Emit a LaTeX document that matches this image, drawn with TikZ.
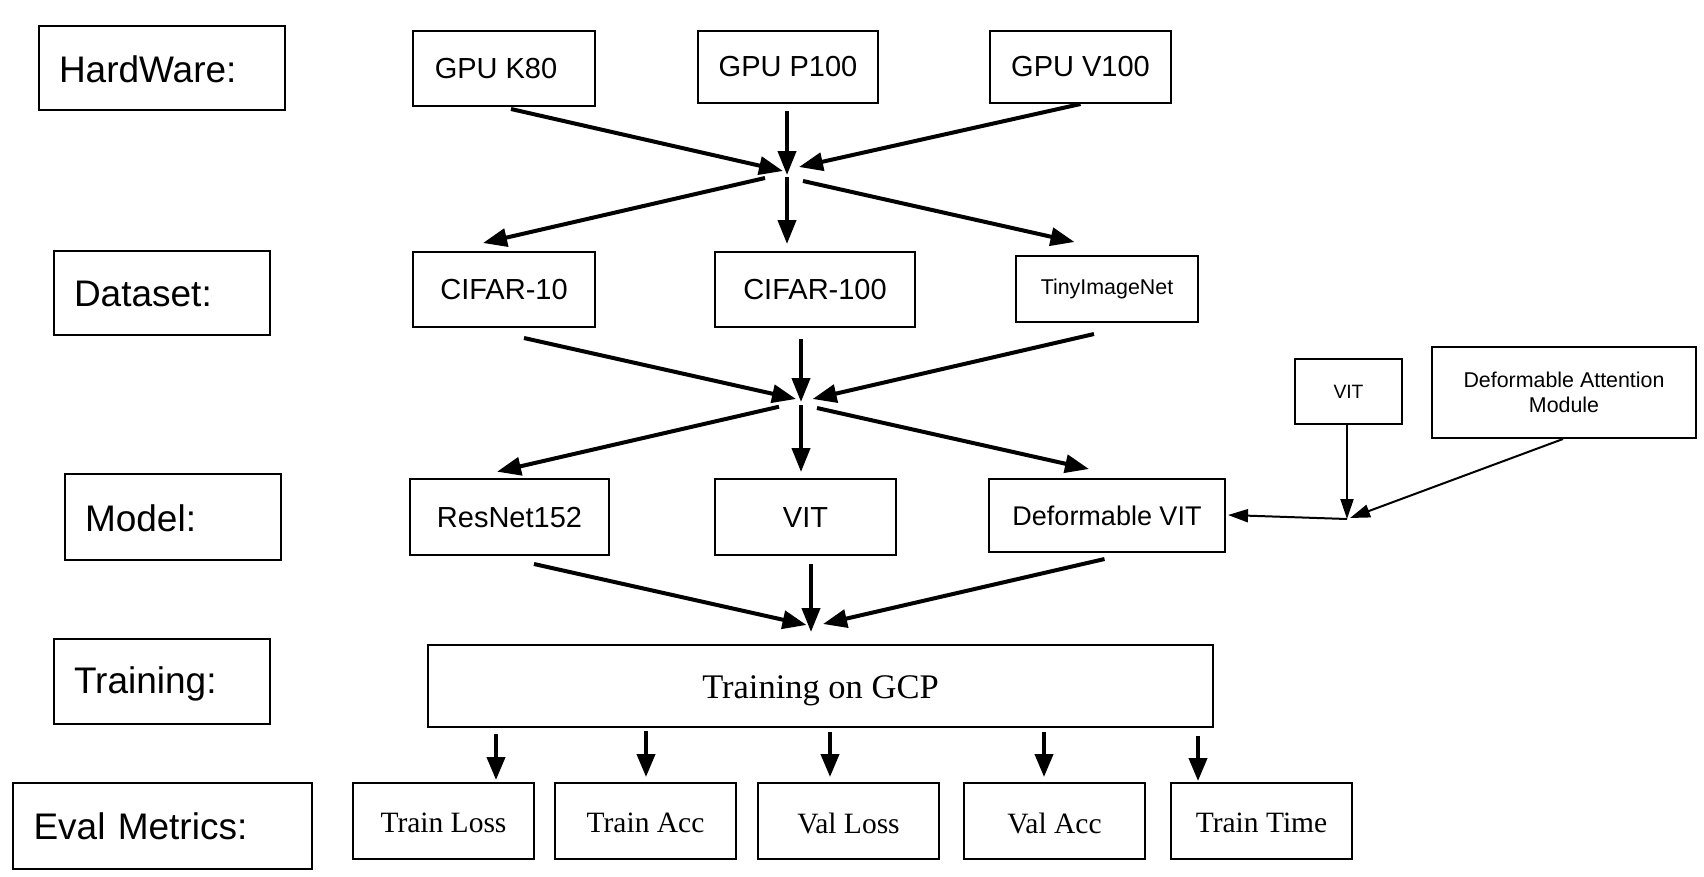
\documentclass[tikz,border=0pt]{standalone}
\usepackage{fontspec}
\setmainfont{Liberation Serif}
\newfontfamily\arialf{Liberation Sans}
\usetikzlibrary{arrows.meta,calc}
\tikzset{
  box/.style={draw, line width=2pt, rectangle, inner sep=0pt, align=center},
  lab/.style={draw, line width=2pt, rectangle, inner ysep=0pt, inner xsep=20pt, align=left,
     font=\arialf\fontsize{37}{44}\selectfont},
  sans/.style={font=\arialf\fontsize{29}{34}\selectfont},
  serif/.style={font=\fontsize{29.5}{34}\selectfont},
  big/.style={line width=4pt, -{Triangle[length=24pt,width=18pt]}},
  evarrow/.style={line width=4pt, -{Triangle[length=23pt,width=18pt]}},
  thin/.style={line width=2pt, -{Triangle[length=20pt,width=13pt]}},
}
\newcommand{\dn}[2]{\raisebox{-#1pt}[\height][\depth]{#2}}
\begin{document}
\begin{tikzpicture}[x=1pt,y=-1pt]
\path[use as bounding box, fill=white] (0,0) rectangle (1704,876);

% left labels
\node[lab, text width=206pt, minimum height=84pt] (lab1) at (162,68) {\dn{1}{HardWare:}};
\node[lab, text width=176pt, minimum height=84pt] (lab2) at (162,293) {\dn{1}{Dataset:}};
\node[lab, text width=176pt, minimum height=86pt] (lab3) at (173,517) {\dn{1}{Model:}};
\node[lab, text width=176pt, minimum height=85pt] (lab4) at (162,681.5) {\dn{2}{Training:}};
\node[lab, text width=257pt, minimum height=86pt, inner xsep=21pt] (lab5) at (162,826) {Eval Metrics:};

% hardware
\node[box, sans, minimum width=182pt, minimum height=75pt] (k80) at (504,68.5) {\hspace*{-16pt}GPU K80};
\node[box, sans, minimum width=180pt, minimum height=72pt] (p100) at (788,67) {GPU P100};
\node[box, sans, minimum width=181pt, minimum height=72pt] (v100) at (1080.5,67) {GPU V100};

% datasets
\node[box, sans, minimum width=182pt, minimum height=75pt] (c10) at (504,289.5) {CIFAR-10};
\node[box, sans, minimum width=200pt, minimum height=75pt] (c100) at (815,289.5) {CIFAR-100};
\node[box, font=\arialf\fontsize{21.4}{25}\selectfont, minimum width=182pt, minimum height=66pt] (tiny) at (1107,289) {TinyImageNet};

% models
\node[box, sans, minimum width=199pt, minimum height=76pt] (resnet) at (509.5,517) {\dn{1}{ResNet152}};
\node[box, sans, minimum width=181pt, minimum height=76pt] (vit) at (805.5,517) {\dn{1}{VIT}};
\node[box, font=\arialf\fontsize{27}{32}\selectfont, minimum width=236pt, minimum height=73pt] (dvit) at (1107,515.5) {Deformable VIT};

% side inputs
\node[box, font=\arialf\fontsize{19.3}{23}\selectfont, minimum width=107pt, minimum height=65pt] (svit) at (1348.5,391.5) {VIT};
\node[box, font=\arialf\fontsize{21.4}{24.5}\selectfont, minimum width=264pt, minimum height=91pt] (dam) at (1564,392.5) {Deformable Attention\\Module};

% training
\node[box, font=\fontsize{34.5}{40}\selectfont, minimum width=785pt, minimum height=82pt] (gcp) at (820.5,686) {\dn{5}{Training on GCP}};

% eval metrics
\node[box, serif, minimum width=181pt, minimum height=76pt] (tl) at (443.5,821) {\dn{2}{Train Loss}};
\node[box, serif, minimum width=181pt, minimum height=76pt] (ta) at (645.5,821) {\dn{2}{Train Acc}};
\node[box, serif, minimum width=181pt, minimum height=76pt] (vl) at (848.5,821) {\dn{2}{Val Loss}};
\node[box, serif, minimum width=181pt, minimum height=76pt] (va) at (1054.5,821) {\dn{2}{Val Acc}};
\node[box, serif, minimum width=181pt, minimum height=76pt] (tt) at (1261.5,821) {\dn{2}{Train Time}};

% hubs
\coordinate (h1) at (787,175);
\coordinate (h2) at (801,402);
\coordinate (h3) at (811,632);
\coordinate (h4) at (1347,519);

% hardware -> hub1
\draw[big] ($(k80.south)+(7,2)$) -- ($(h1)+(-4,-4)$);
\draw[big] ($(p100.south)+(-1,7)$) -- (h1);
\draw[big] ($(v100.south)+(0,0)$) -- ($(h1)+(12,-8)$);
% hub1 -> datasets
\draw[big] ($(h1)+(-22,3)$) -- ($(c10.north)+(-21,-8)$);
\draw[big] ($(h1)+(0,2)$) -- ($(c100.north)+(-28,-7)$);
\draw[big] ($(h1)+(16,6)$) -- ($(tiny.north)+(-32.5,-13)$);

% datasets -> hub2
\draw[big] ($(c10.south)+(20,10)$) -- ($(h2)+(-5,-3)$);
\draw[big] ($(c100.south)+(-14,11)$) -- (h2);
\draw[big] ($(tiny.south)+(-13,11)$) -- ($(h2)+(11.6,-3)$);
% hub2 -> models
\draw[big] ($(h2)+(-22,4.7)$) -- ($(resnet.north)+(-12.5,-6.3)$);
\draw[big] ($(h2)+(0,3)$) -- ($(vit.north)+(-4.5,-6)$);
\draw[big] ($(h2)+(16,6)$) -- ($(dvit.north)+(-18,-9)$);

% models -> hub3
\draw[big] ($(resnet.south)+(24.5,8)$) -- ($(h3)+(-4.5,-7)$);
\draw[big] ($(vit.south)+(5.5,8)$) -- (h3);
\draw[big] ($(dvit.south)+(-2.5,6)$) -- ($(h3)+(12,-8)$);

% side inputs -> deformable vit
\draw[thin] ($(svit.south)+(-1.5,0)$) -- (h4);
\draw[thin] ($(dam.south)+(-1,0)$) -- ($(h4)+(3,-1)$);
\draw[thin] (h4) -- ($(dvit.east)+(2,-0.5)$);

% training -> metrics
\draw[evarrow] ($(gcp.south)+(-324.5,6)$) -- ($(tl.north)+(52.5,-2)$);
\draw[evarrow] ($(gcp.south)+(-174.5,3)$) -- ($(ta.north)+(0.5,-5)$);
\draw[evarrow] ($(gcp.south)+(9.5,4)$) -- ($(vl.north)+(-18.5,-5)$);
\draw[evarrow] ($(gcp.south)+(223.5,4)$) -- ($(va.north)+(-10.5,-5)$);
\draw[evarrow] ($(gcp.south)+(377.5,8)$) -- ($(tt.north)+(-63.5,-1)$);
\end{tikzpicture}
\end{document}
